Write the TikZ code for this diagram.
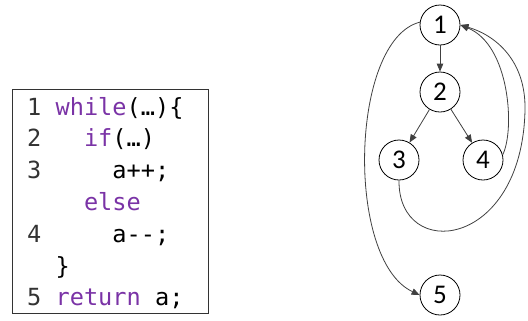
\documentclass[tikz,border=0pt]{standalone}
\usepackage{fontspec}
\newfontfamily\codefont{DejaVu Sans Mono}
\newfontfamily\numfont{Carlito}
\usetikzlibrary{arrows.meta}
\definecolor{kw}{HTML}{7A33A6}
\definecolor{ln}{HTML}{333333}
\definecolor{edge}{HTML}{404040}
\begin{document}
\begin{tikzpicture}[x=1bp,y=-1bp,
  codeline/.style={anchor=base west,inner sep=0pt,font=\codefont\fontsize{23.6bp}{28bp}\selectfont},
  vertex/.style={circle,draw=black,line width=0.8bp,minimum size=40bp,inner sep=0pt,font=\numfont\fontsize{27bp}{30bp}\selectfont},
  arr/.style={draw=edge,line width=0.8bp,-{Triangle[length=8bp,width=6.5bp]}}]
\useasboundingbox (0,0) rectangle (528,320);
% code box
\draw[draw=ln,line width=0.8bp] (12.5,89) rectangle (208,313);
\node[codeline] (c1) at (27,115) {\textcolor{ln}{1} \textcolor{kw}{while}(…)\{};
\node[codeline] (c2) at (27,146.8) {\textcolor{ln}{2}\ \ \ \textcolor{kw}{if}(…)};
\node[codeline] (c3) at (27,178.6) {\textcolor{ln}{3}\ \ \ \ \ a++;};
\node[codeline] (c4) at (27,210.4) {\phantom{0}\ \ \ \textcolor{kw}{else}};
\node[codeline] (c5) at (27,242.2) {\textcolor{ln}{4}\ \ \ \ \ a-{}-;};
\node[codeline] (c6) at (27,274) {\phantom{0}\ \}};
\node[codeline] (c7) at (27,305.8) {\textcolor{ln}{5} \textcolor{kw}{return} a;};
% graph
\node[vertex] (n1) at (440,25) {1};
\node[vertex] (n2) at (440,92) {2};
\node[vertex] (n3) at (399,160) {3};
\node[vertex] (n4) at (483,160) {4};
\node[vertex] (n5) at (440,295) {5};
\draw[arr] (n1) -- (n2);
\draw[arr] (n2) -- (n3);
\draw[arr] (n2) -- (n4);
\draw[arr] (n4.15) .. controls (515,130) and (510,45) .. (n1.east);
\draw[arr] (n3.south) .. controls (398,262) and (522,250) .. (525,110) .. controls (526,60) and (495,35) .. (n1.east);
\draw[arr] (n1.172) .. controls (350,40) and (345,260) .. (n5.west);
\end{tikzpicture}
\end{document}
